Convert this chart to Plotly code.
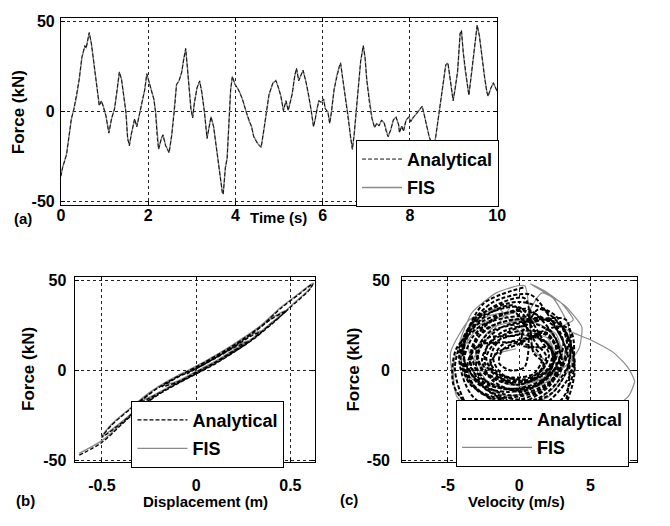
import plotly.graph_objects as go

# ---------------- (a) time history ----------------
time_s = [0.00, 0.04, 0.13, 0.19, 0.24, 0.30, 0.36, 0.42, 0.48, 0.52, 0.55, 0.58, 0.62, 0.65, 0.70,
          0.74, 0.79, 0.85, 0.88, 0.93, 0.97, 1.03, 1.10, 1.16, 1.23, 1.29, 1.34, 1.39, 1.43, 1.49,
          1.53, 1.57, 1.61, 1.66, 1.69, 1.74, 1.81, 1.87, 1.92, 1.97, 2.01, 2.07, 2.13, 2.17, 2.21,
          2.24, 2.30, 2.34, 2.40, 2.48, 2.54, 2.60, 2.65, 2.71, 2.77, 2.81, 2.86, 2.90, 2.94, 2.98,
          3.02, 3.06, 3.12, 3.18, 3.23, 3.29, 3.35, 3.39, 3.44, 3.50, 3.55, 3.61, 3.66, 3.70, 3.72,
          3.74, 3.77, 3.81, 3.86, 3.89, 3.93, 3.99, 4.05, 4.10, 4.16, 4.25, 4.31, 4.37, 4.42, 4.51,
          4.59, 4.66, 4.71, 4.77, 4.86, 4.93, 4.99, 5.04, 5.10, 5.16, 5.21, 5.25, 5.30, 5.36, 5.40,
          5.45, 5.50, 5.55, 5.61, 5.67, 5.73, 5.79, 5.83, 5.87, 5.91, 5.97, 6.02, 6.06, 6.12, 6.16,
          6.20, 6.26, 6.32, 6.38, 6.41, 6.46, 6.52, 6.58, 6.64, 6.68, 6.72, 6.77, 6.81, 6.87, 6.93,
          6.97, 7.01, 7.07, 7.13, 7.19, 7.24, 7.29, 7.35, 7.41, 7.47, 7.50, 7.56, 7.62, 7.68, 7.74,
          7.76, 7.81, 7.85, 7.91, 7.97, 8.02, 8.08, 8.13, 8.20, 8.28, 8.32, 8.38, 8.44, 8.50, 8.55,
          8.59, 8.65, 8.70, 8.76, 8.82, 8.87, 8.91, 8.95, 8.99, 9.03, 9.09, 9.15, 9.18, 9.22, 9.26,
          9.32, 9.35, 9.41, 9.48, 9.54, 9.59, 9.65, 9.71, 9.76, 9.79, 9.85, 9.91, 9.95, 10.00]
force_a_analytical = [-36, -31, -24, -13, -4, 1.4, 8.6, 17.7, 30, 33, 36.6, 35, 41, 43.8, 37.5,
                      30, 21, 10.5, 3.2, 6, 3, -2, -12, -4, 1.4, 12, 22, 17.7, 10.5, -0.4,
                      -15, -19, -13, -7.6, -4, -8.5, -0.4, 6.8, 12, 21, 16.8, 12, 6.8, -0.4, -15,
                      -21, -15, -13, -19, -23, -13, 0, 15, 17, 22, 29, 35, 24, 12, 1.4,
                      -3.6, 5, 13, 17, 10.5, -0.4, -15, -9, -3, -8.5, -18, -29, -39, -45, -46,
                      -40, -31, -26, -6, 12, 19.5, 15, 13, 10.5, 7, -0.4, -5, -8.5, -14, -18,
                      -20, -9, -0.4, 9.5, 16, 17, 13, 8.6, 0.5, 6, 0.5, 5, 9.5, 20, 24,
                      17, 20, 23, 17, 10.5, 1.4, -8.5, -4, 1.4, 6, 5, 7, 1.4, -0.4, -6.7,
                      -0.4, 12, 19.5, 25, 27, 17.7, 8.6, -2, -15, -21, -13, -0.4, 12, 28, 36.6,
                      30, 17.7, 5, -4, -9, -6.5, -8, -4.7, -6.5, -12.6, -14, -10, -4.7, -3, -7.4,
                      -11.8, -8, -11, -4.7, -3, -5.6, -3, -2, 0.5, 3, -1.2, -7, -14, -18, -19,
                      -14, -4, 5, 14, 26, 27, 19, 14, 6, 12, 22, 43.5, 45, 33, 24,
                      14, 9, 21, 36.5, 48, 42, 29.5, 19, 11, 8.4, 12.8, 16, 13.7, 11]
force_a_fis = [-35.5, -31, -23.5, -13, -4.5, 1.8, 8.2, 18, 29.5, 33.5, 36, 35.5, 40.5, 43.5, 37.5,
               30.5, 20.5, 10.8, 3.5, 5.6, 3.2, -2.3, -11.6, -4.2, 1.8, 11.6, 21.6, 17.9, 10.2, -0.1,
               -14.6, -18.7, -13.2, -7.3, -4.3, -8.2, -0.6, 7.1, 11.7, 20.6, 17.1, 11.8, 7.1, -0.1, -14.7,
               -20.6, -15.3, -12.8, -18.7, -22.6, -13.2, 0.3, 14.8, 17.3, 21.7, 28.8, 34.6, 24.3, 11.8, 1.6,
               -3.3, 4.8, 13.2, 16.8, 10.7, -0.2, -14.7, -9.2, -2.8, -8.3, -18.2, -28.7, -38.6, -44.6, -45.6,
               -39.7, -31.2, -25.7, -6.2, 11.8, 19.2, 15.2, 12.8, 10.7, 6.8, -0.2, -5.2, -8.3, -13.8, -17.7,
               -19.7, -9.2, -0.2, 9.3, 15.8, 17.2, 12.8, 8.8, 0.7, 5.8, 0.7, 4.8, 9.7, 19.7, 23.6,
               17.2, 19.8, 22.7, 17.2, 10.3, 1.6, -8.2, -4.2, 1.6, 5.8, 5.2, 6.8, 1.6, -0.2, -6.4,
               -0.2, 11.8, 19.7, 24.7, 26.6, 17.9, 8.4, -1.8, -14.7, -20.6, -13.2, -0.2, 11.8, 27.6, 36.2,
               30.2, 17.5, 5.2, -3.8, -8.7, -6.7, -7.8, -4.9, -6.3, -12.3, -13.8, -10.2, -4.5, -3.2, -7.2,
               -11.5, -8.2, -10.7, -4.9, -3.2, -5.4, -3.2, -1.8, 0.7, 2.8, -1.0, -6.8, -13.8, -17.7, -18.7,
               -14.2, -3.8, 4.8, 14.2, 25.6, 26.7, 19.2, 13.8, 6.2, 11.8, 21.7, 43.2, 44.6, 33.2, 23.8,
               14.2, 9.2, 20.8, 36.2, 47.6, 42.2, 29.3, 19.2, 11.2, 8.6, 12.6, 15.8, 13.8, 11.2]

# ---------------- (b) force vs displacement ----------------
disp_b = [-0.62, -0.5, -0.4, -0.3, -0.2, -0.1, 0.0, 0.1, 0.2, 0.3, 0.4, 0.5, 0.6, 0.62,
          0.55, 0.45, 0.35, 0.25, 0.15, 0.05, -0.05, -0.15, -0.25, -0.35, -0.45, -0.5,
          -0.4, -0.3, -0.2, -0.1, 0.0, 0.1, 0.2, 0.3, 0.4, 0.48,
          0.4, 0.3, 0.2, 0.1, 0.0, -0.1, -0.2, -0.3,
          -0.25, -0.15, -0.05, 0.05, 0.15, 0.25, 0.35,
          0.3, 0.2, 0.1, 0.0, -0.1, -0.18,
          -0.1, 0.0, 0.1, 0.2, 0.28,
          0.2, 0.1, 0.0, -0.05]
force_b_analytical = [-47, -40, -30.5, -21, -13.5, -7.5, -2, 3.5, 10, 17, 25.5, 35, 44.5, 48,
                      42.5, 34.5, 25, 17.5, 10.8, 4.8, -0.8, -6.5, -13, -21.5, -30.5, -37,
                      -29.5, -20.5, -13, -7, -1.5, 4, 10.5, 17.5, 26, 33,
                      28.5, 20.5, 13.5, 7, 1.5, -3.5, -9.5, -18,
                      -15.5, -10, -4.5, 1, 7, 13.5, 21.5,
                      19.5, 13, 6.8, 1, -4, -9,
                      -6.5, -1, 4.5, 11, 16,
                      12.5, 6.5, 0.8, -2]
force_b_fis = [-46, -39, -30, -20.5, -13, -7, -1.5, 4, 10.5, 17.5, 26, 35.5, 45, 48.5,
               43, 35, 25.5, 18, 11.2, 5.2, -0.4, -6, -12.5, -21, -30, -36.5,
               -29, -20, -12.5, -6.5, -1, 4.5, 11, 18, 26.5, 33.5,
               29, 21, 14, 7.5, 2, -3, -9, -17.5,
               -15, -9.5, -4, 1.5, 7.5, 14, 22,
               20, 13.5, 7.2, 1.5, -3.5, -8.5,
               -6, -0.5, 5, 11.5, 16.5,
               13, 7, 1.2, -1.5]

# ---------------- (c) force vs velocity ----------------
vel_c_analytical = [0.3, -2.5, -3.9, -3.2, -0.6, 2.4, 3.6, 2.6,
                    0.0, -2.9, -4.2, -3.3, 0.2, 3.0, 3.9, 2.8,
                    -0.4, -2.5, -3.4, -2.4, 0.0, 2.2, 3.0, 2.0,
                    0.2, -1.8, -2.6, -1.8, 0.2, 1.9, 2.5, 1.6,
                    0.0, -3.2, -4.5, -3.6, -0.5, 2.8, 3.9, 3.0,
                    0.5, -1.2, -1.8, -1.2, 0.3, 1.5, 1.9, 1.2,
                    -0.3, -3.0, -4.0, -3.0, -0.5, 2.2, 3.3, 2.4,
                    0.8, -1.8, -3.5, -3.8, -2.0, 1.2, 3.4, 3.3,
                    0.0, -2.1, -3.0, -2.4, -0.2, 1.8, 2.7, 1.9,
                    -0.2, -1.5, -2.0, -1.3, 0.0, 1.3, 1.7, 1.0,
                    0.4, -2.3, -3.8, -3.6, -1.5, 1.5, 3.6, 3.6,
                    0.0, -2.6, -4.4, -4.6, -3.0, 0.0, 3.0, 3.5,
                    2.5, 0.5, -1.5, -3.3, -3.9, -2.8, -0.5, 1.8,
                    2.9, 2.4, 0.6, -1.2, -2.6, -3.0, -2.0, 0.0,
                    1.6, 2.4, 2.0, 0.2, -1.6, -2.3, -1.8, -0.4,
                    1.0, 1.6, 1.0, -0.3, -1.2, -1.4, -0.6, 0.4,
                    0.5, -1.0, -2.2, -2.4, -1.4, 0.4, 2.0, 2.6, 1.8,
                    0.0, -2.8, -3.6, -2.8, -0.8, 1.4, 2.6, 2.2, 0.2,
                    0.3, -1.8, -3.2, -3.4, -2.2, 0.0, 2.1, 2.9, 2.3,
                    0.6, -1.4, -2.9, -3.3, -2.7, -0.8, 1.3, 2.6, 3.1, 2.2,
                    0.0, -1.0, -1.8, -2.0, -1.2, 0.3, 1.6, 2.1, 1.4,
                    -0.4, -2.2, -3.6, -4.1, -3.4, -1.6, 0.8, 2.6, 3.4, 3.0, 1.4,
                    0.0, -2.2, -2.9, -2.5, -1.0, 0.8, 2.1, 2.3, 1.2]
force_c_analytical = [46, 37, 14, -8, -20, -12, 8, 30,
                      38, 30, 8, -14, -28, -16, 5, 26,
                      28, 22, 5, -10, -18, -8, 6, 20,
                      22, 17, 6, -6, -12, -4, 8, 18,
                      35, 27, 2, -20, -38, -25, 0, 24,
                      18, 14, 6, -2, -6, 0, 8, 15,
                      32, 25, 10, -5, -14, -6, 10, 26,
                      42, 38, 24, 4, -12, -16, 2, 28,
                      26, 21, 10, -2, -8, -2, 10, 21,
                      14, 10, 3, -4, -8, -3, 4, 10,
                      40, 33, 16, -4, -18, -20, -2, 22,
                      30, 25, 12, -8, -24, -35, -22, 5,
                      24, 33, 30, 18, 2, -12, -17, -10,
                      6, 20, 27, 24, 14, 2, -8, -11,
                      -6, 4, 15, 20, 16, 7, -1, -4,
                      -2, 6, 13, 15, 11, 4, 0, 2,
                      24, 22, 14, 4, -4, -6, 0, 12, 20,
                      16, 14, 4, -8, -12, -8, 2, 12, 14,
                      28, 25, 15, 2, -8, -10, -3, 9, 21,
                      34, 30, 20, 8, -4, -10, -8, 2, 16, 28,
                      24, 20, 12, 4, -3, -5, 0, 9, 18,
                      36, 31, 20, 6, -8, -15, -13, -4, 10, 24, 34,
                      20, 18, 10, 0, -6, -6, 2, 12, 19]
vel_c_fis = [-0.2, -1.6, -2.1, -1.2, 0.2, 1.5, 1.9, 1.0,
             0.4, -1.6, -3.3, -4.2, -3.6, -1.2, 2.0, 3.7, 3.4, 2.4, 0.8,
             1.8, 3.0, 3.8, 3.0, 5.0, 6.6, 7.6, 8.1, 7.7, 6.5, 4.0, 0.5, -2.5, -4.4, -4.6, -3.8, -2.2, 0.0,
             -2.6, -3.9, -3.4, -1.0, 1.8, 3.1, 2.6, 0.6,
             -1.8, -3.0, -2.6, -0.6, 1.6, 2.6, 2.0, 0.2,
             1.6, 3.2, 4.4, 4.2, 3.2, 1.0, -1.6, -3.4, -3.6, -2.4, -0.6,
             -2.2, -3.2, -2.2, 0.0, 2.0, 2.8, 2.0, 0.2,
             -1.4, -3.5, -4.8, -4.4, -2.6, 0.2, 2.6, 3.2, 1.8, 0.0]
force_c_fis = [12, 9, 2, -5, -9, -3, 5, 11,
               47, 43, 32, 14, -6, -19, -15, 4, 26, 40, 48,
               44, 37, 28, 24, 17, 10, 2, -6, -14, -22, -30, -34, -28, -14, 4, 20, 30, 33,
               26, 12, -4, -14, -10, 4, 20, 28,
               24, 12, 0, -8, -5, 7, 18, 23,
               43, 36, 24, 12, 2, -6, -2, 8, 22, 32, 36,
               18, 6, -6, -12, -6, 6, 16, 20,
               34, 28, 10, -12, -24, -22, -8, 10, 24, 30]

# ---------------- tick labels ----------------
ticks_time = [0, 2, 4, 6, 8, 10]
ticks_time_text = ["0", "2", "4", "6", "8", "10"]
ticks_force = [-50, 0, 50]
ticks_force_text = ["-50", "0", "50"]
ticks_disp = [-0.5, 0, 0.5]
ticks_disp_text = ["-0.5", "0", "0.5"]
ticks_vel = [-5, 0, 5]
ticks_vel_text = ["-5", "0", "5"]

W, H = 670, 526
SANS = "Liberation Sans, Arial, sans-serif"
FIS_COLOR = "#8a8a8a"
AN_DASH = "4px,2px"


def px(x):
    return x / W


def py(y):
    return 1 - y / H


def bold(labels):
    return ["<b>" + s + "</b>" for s in labels]


fig = go.Figure()

# (a)
fig.add_trace(go.Scatter(x=time_s, y=force_a_fis, mode="lines", name="FIS",
                         line=dict(color=FIS_COLOR, width=1.4), legend="legend",
                         legendgroup="a_fis", legendrank=2, xaxis="x", yaxis="y"))
fig.add_trace(go.Scatter(x=time_s, y=force_a_analytical, mode="lines", name="Analytical",
                         line=dict(color="#111111", width=1, dash=AN_DASH), legend="legend",
                         legendgroup="a_an", legendrank=1, xaxis="x", yaxis="y"))
# (b)
fig.add_trace(go.Scatter(x=disp_b, y=force_b_fis, mode="lines", name="FIS",
                         line=dict(color=FIS_COLOR, width=1.4, shape="spline", smoothing=0.8),
                         legend="legend2", legendgroup="b_fis", legendrank=2, xaxis="x2", yaxis="y2"))
fig.add_trace(go.Scatter(x=disp_b, y=force_b_analytical, mode="lines", name="Analytical",
                         line=dict(color="black", width=1.3, dash=AN_DASH, shape="spline", smoothing=0.8),
                         legend="legend2", legendgroup="b_an", legendrank=1, xaxis="x2", yaxis="y2"))
# (c)
fig.add_trace(go.Scatter(x=vel_c_fis, y=force_c_fis, mode="lines", name="FIS",
                         line=dict(color=FIS_COLOR, width=1.2, shape="spline", smoothing=0.5),
                         legend="legend3", legendgroup="c_fis", legendrank=2, xaxis="x3", yaxis="y3"))
fig.add_trace(go.Scatter(x=vel_c_analytical, y=force_c_analytical, mode="lines", name="Analytical",
                         line=dict(color="black", width=2, dash=AN_DASH, shape="spline", smoothing=0.8),
                         legend="legend3", legendgroup="c_an", legendrank=1, xaxis="x3", yaxis="y3"))

axis_common = dict(showline=True, linecolor="black", linewidth=1, mirror="ticks",
                   ticks="inside", ticklen=4, tickcolor="black", showgrid=True,
                   gridcolor="#222222", griddash="3px,3px", gridwidth=1, zeroline=False,
                   tickfont=dict(family=SANS, size=16, color="black"))

fig.update_layout(
    width=W, height=H, margin=dict(l=0, r=0, t=0, b=0),
    paper_bgcolor="white", plot_bgcolor="white",
    xaxis=dict(axis_common, domain=[px(58), px(503)], range=[0, 10], tickvals=ticks_time,
               ticktext=bold(ticks_time_text), anchor="y", ticklabelstandoff=-5),
    yaxis=dict(axis_common, domain=[py(205), py(13)], range=[-52, 52], tickvals=ticks_force,
               ticktext=bold(ticks_force_text), anchor="x", ticklabelstandoff=2),
    xaxis2=dict(axis_common, domain=[px(72), px(317)], range=[-0.645, 0.63], tickvals=ticks_disp,
                ticktext=bold(ticks_disp_text), anchor="y2", ticklabelstandoff=8),
    yaxis2=dict(axis_common, domain=[py(468), py(278)], range=[-51, 52], tickvals=ticks_force,
                ticktext=bold(ticks_force_text), anchor="x2", ticklabelstandoff=4),
    xaxis3=dict(axis_common, domain=[px(406), px(646)], range=[-8.2, 8.3], tickvals=ticks_vel,
                ticktext=bold(ticks_vel_text), anchor="y3", ticklabelstandoff=8),
    yaxis3=dict(axis_common, domain=[py(468), py(278)], range=[-51, 52], tickvals=ticks_force,
                ticktext=bold(ticks_force_text), anchor="x3", ticklabelstandoff=8),
    showlegend=True,
)

legend_common = dict(bgcolor="white", bordercolor="black", borderwidth=1,
                     font=dict(family=SANS, size=18, color="black", weight="bold"),
                     xanchor="left", yanchor="top", tracegroupgap=2)
fig.update_layout(
    legend=dict(legend_common, x=px(359), y=py(138), itemwidth=40),
    legend2=dict(legend_common, x=px(130), y=py(405), itemwidth=50),
    legend3=dict(legend_common, x=px(461), y=py(404), itemwidth=70),
)

label_font = dict(family=SANS, size=15, color="black", weight="bold")
force_font = dict(family=SANS, size=17, color="black", weight="bold")
annos = [
    ("(a)", 19, 218, 0, label_font), ("(b)", 22, 507, 0, label_font), ("(c)", 352, 506, 0, label_font),
    ("Time (s)", 280, 217, 0, label_font), ("Displacement (m)", 205, 508, 0, label_font),
    ("Velocity (m/s)", 523, 508, 0, label_font),
    ("Force (kN)", 15, 110, -90, force_font), ("Force (kN)", 25, 373, -90, force_font),
    ("Force (kN)", 356, 373, -90, force_font),
]
for text, x, y, ang, fnt in annos:
    fig.add_annotation(text=text, x=px(x), y=py(y), xref="paper", yref="paper",
                       showarrow=False, textangle=ang, font=fnt,
                       xanchor="center", yanchor="middle")

fig.write_html("out.html")
